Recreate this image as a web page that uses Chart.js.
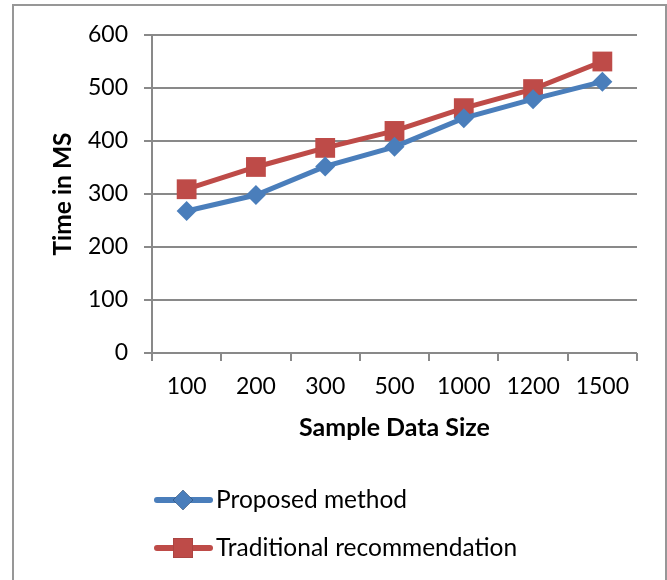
<html>

<head>
    <title>Time in MS</title>
    <script src="https://cdn.jsdelivr.net/npm/chart.js"></script>
    <style>
        body {
            margin: 0;
            background: #fff;
        }

        .frame {
            position: absolute;
            left: 12px;
            top: 4px;
            width: 651px;
            height: 600px;
            border: 2px solid #979797;
        }

        .wrap {
            position: absolute;
            left: 0;
            top: 0;
            width: 667px;
            height: 580px;
        }
    </style>
</head>

<body>
    <div class="frame"></div>
    <div class="wrap"><canvas id="myChart"></canvas></div>

    <script>
        const categories = ['100', '200', '300', '500', '1000', '1200', '1500']
        const proposed = [268, 298, 352, 389, 443, 479, 512]
        const traditional = [309, 351, 387, 419, 462, 498, 550]
        const yTicks = [0, 100, 200, 300, 400, 500, 600]

        const FONT = 'Lato, "Open Sans", sans-serif'

        // legend drawn below the axes: line + marker + label, stacked
        const lineLegend = {
            id: 'lineLegend',
            afterDraw(chart) {
                const ctx = chart.ctx
                const rows = [500, 548]
                chart.data.datasets.forEach((ds, i) => {
                    const y = rows[i]
                    ctx.save()
                    ctx.strokeStyle = ds.borderColor
                    ctx.lineWidth = ds.borderWidth + 1
                    ctx.lineCap = 'round'
                    ctx.beginPath()
                    ctx.moveTo(157, y)
                    ctx.lineTo(210, y)
                    ctx.stroke()
                    Chart.helpers.drawPoint(ctx, {
                        pointStyle: ds.pointStyle,
                        radius: ds.pointRadius,
                        borderWidth: 0
                    }, 183, y)
                    ctx.fillStyle = ds.pointBackgroundColor
                    ctx.fill()
                    ctx.fillStyle = '#000'
                    ctx.font = '24.5px ' + FONT
                    ctx.textBaseline = 'middle'
                    ctx.fillText(ds.label, 216, y)
                    ctx.restore()
                })
            }
        }

        const ctx = document.getElementById('myChart').getContext('2d')

        const myChart = new Chart(ctx, {
            type: 'line',
            data: {
                labels: categories,
                datasets: [{
                    label: 'Proposed method',
                    data: proposed,
                    borderColor: '#4A7EBB',
                    backgroundColor: '#4A7EBB',
                    pointBackgroundColor: '#4A7EBB',
                    pointBorderColor: '#4A7EBB',
                    borderWidth: 5,
                    pointStyle: 'rectRot',
                    pointRadius: 10,
                    pointBorderWidth: 0,
                    tension: 0
                },
                {
                    label: 'Traditional recommendation',
                    data: traditional,
                    borderColor: '#BE4B48',
                    backgroundColor: '#BE4B48',
                    pointBackgroundColor: '#BE4B48',
                    pointBorderColor: '#BE4B48',
                    borderWidth: 5,
                    pointStyle: 'rect',
                    pointRadius: 14,
                    pointBorderWidth: 0,
                    tension: 0
                }]
            },
            options: {
                responsive: true,
                maintainAspectRatio: false,
                animation: false,
                layout: {
                    padding: { left: 48, right: 30, top: 35, bottom: 130 }
                },
                plugins: {
                    legend: { display: false },
                    tooltip: { enabled: false }
                },
                scales: {
                    x: {
                        offset: true,
                        grid: {
                            offset: true,
                            drawOnChartArea: false,
                            drawTicks: true,
                            tickLength: 8,
                            color: '#898989',
                            lineWidth: 2
                        },
                        border: { display: false },
                        ticks: {
                            color: '#000',
                            padding: 12,
                            maxRotation: 0,
                            font: { family: FONT, size: 23 }
                        },
                        title: {
                            display: true,
                            text: 'Sample Data Size',
                            color: '#000',
                            padding: { top: 0, bottom: 7 },
                            font: { family: FONT, size: 25, weight: 'bold' }
                        },
                        afterFit(scale) { scale.height = 97 }
                    },
                    y: {
                        min: 0,
                        max: 600,
                        afterBuildTicks(scale) {
                            scale.ticks = yTicks.map(v => ({ value: v }))
                        },
                        grid: {
                            color: '#898989',
                            lineWidth: 2,
                            tickLength: 8
                        },
                        border: { display: true, color: '#898989', width: 2 },
                        ticks: {
                            color: '#000',
                            padding: 16,
                            font: { family: FONT, size: 23 }
                        },
                        title: {
                            display: true,
                            text: 'Time in MS',
                            color: '#000',
                            padding: { top: 0, bottom: 0 },
                            font: { family: FONT, size: 24.5, weight: 'bold' }
                        },
                        afterFit(scale) { scale.width = 104 }
                    }
                }
            },
            plugins: [lineLegend]
        });
    </script>
</body>

</html>
